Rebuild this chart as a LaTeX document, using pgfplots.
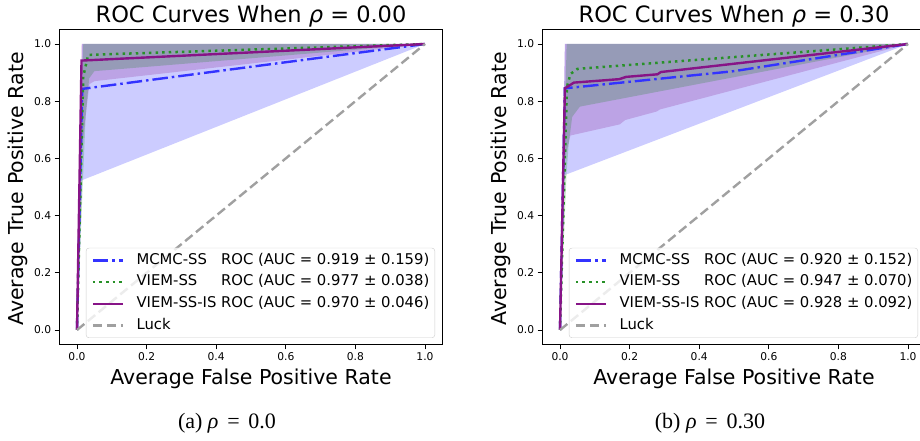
\documentclass[border=0pt]{standalone}
\usepackage{fontspec}
\setmainfont{DejaVu Sans}
\newfontfamily\capfont{Liberation Serif}
\usepackage{calc}
\usepackage{pgfplots}
\pgfplotsset{compat=1.18}

\definecolor{lblue}{RGB}{51,51,255}
\definecolor{lgreen}{RGB}{40,145,40}
\definecolor{lpurple}{RGB}{135,20,135}
\definecolor{lgray}{RGB}{160,160,160}
\definecolor{fgreen}{RGB}{0,128,0}
\definecolor{fpurple}{RGB}{128,0,128}

\newcommand{\nm}[1]{\makebox[\widthof{VIEM-SS-IS}][l]{#1}}

\pgfplotsset{
  roc/.style={
    scale only axis, width=382.8pt, height=314.6pt,
    xmin=-0.05, xmax=1.05, ymin=-0.05, ymax=1.05,
    xtick={0,0.2,0.4,0.6,0.8,1}, ytick={0,0.2,0.4,0.6,0.8,1},
    xticklabels={0.0,0.2,0.4,0.6,0.8,1.0},
    yticklabels={0.0,0.2,0.4,0.6,0.8,1.0},
    tick pos=left, tick align=outside, major tick length=5pt,
    tick style={black, line width=0.8pt},
    axis line style={line width=0.8pt},
    ticklabel style={font=\fontsize{10.7}{12}\selectfont},
    legend style={at={(1,0)}, anchor=south east, xshift=-7.4pt, yshift=6.3pt,
      font=\fontsize{14.8}{17}\selectfont, draw=black!20, rounded corners=3pt,
      fill=white, fill opacity=0.8, text opacity=1, row sep=0pt,
      inner xsep=5.5pt, inner ysep=1.5pt,
      nodes={text height=11pt, text depth=3.5pt, inner ysep=3.6pt, inner xsep=0pt},
      /tikz/every odd column/.append style={column sep=12pt}},
    legend cell align=left,
    legend image code/.code={\draw[#1] (0pt,0pt) -- (30.5pt,0pt);},
  },
  bandb/.style={fill=blue, fill opacity=0.2, draw=none, forget plot},
  bandp/.style={fill=fpurple, fill opacity=0.2, draw=none, forget plot},
  bandg/.style={fill=fgreen, fill opacity=0.2, draw=none, forget plot},
  mcmc/.style={lblue, line width=2.4pt, dash pattern=on 15.5pt off 4pt on 2.5pt off 4pt},
  viem/.style={lgreen, line width=2.5pt, dash pattern=on 2.5pt off 4.1pt},
  viemis/.style={lpurple, line width=2.4pt},
  luck/.style={lgray, line width=2.4pt, dash pattern=on 9.5pt off 4.5pt},
}

\begin{document}
\begin{tikzpicture}[x=1pt,y=1pt]
\useasboundingbox (0,0) rectangle (920,441);

% rho = 0.00
\begin{axis}[roc, at={(59.6pt,96.7pt)}, anchor=south west]
\addplot[bandb] coordinates {(0,0) (0.015,1) (1,1) (0.015,0.524)} -- cycle;
\addplot[bandp] coordinates {(0,0) (0.013,1) (1,1) (0.05,0.87) (0.036,0.86) (0.03,0.80) (0.013,0.62)} -- cycle;
\addplot[bandg] coordinates {(0,0) (0.018,1) (1,1) (0.05,0.905) (0.035,0.88) (0.025,0.75) (0.018,0.55)} -- cycle;
\addplot[mcmc] coordinates {(0,0) (0.015,0.843) (1,1)};
\addlegendentry{\nm{MCMC-SS} ROC (AUC = 0.919 ± 0.159)}
\addplot[viem] coordinates {(0,0) (0.018,0.886) (0.032,0.962) (1,1)};
\addlegendentry{\nm{VIEM-SS} ROC (AUC = 0.977 ± 0.038)}
\addplot[viemis] coordinates {(0,0) (0.013,0.942) (1,1)};
\addlegendentry{VIEM-SS-IS ROC (AUC = 0.970 ± 0.046)}
\addplot[luck] coordinates {(0,0) (1,1)};
\addlegendentry{Luck}
\end{axis}

% rho = 0.30
\begin{axis}[roc, at={(542.6pt,96.7pt)}, anchor=south west]
\addplot[bandb] coordinates {(0,0) (0.014,1) (1,1) (0.014,0.542)} -- cycle;
\addplot[bandp] coordinates {(0,0) (0.014,1) (1,1) (0.287,0.771) (0.278,0.764) (0.187,0.734) (0.172,0.719) (0.03,0.68) (0.014,0.60)} -- cycle;
\addplot[bandg] coordinates {(0,0) (0.019,1) (1,1) (0.057,0.781) (0.035,0.745) (0.025,0.65) (0.019,0.55)} -- cycle;
\addplot[mcmc] coordinates {(0,0) (0.014,0.845) (0.5,0.905) (1,1)};
\addlegendentry{\nm{MCMC-SS} ROC (AUC = 0.920 ± 0.152)}
\addplot[viem] coordinates {(0,0) (0.02,0.85) (0.03,0.895) (0.05,0.913) (1,1)};
\addlegendentry{\nm{VIEM-SS} ROC (AUC = 0.947 ± 0.070)}
\addplot[viemis] coordinates {(0,0) (0.014,0.845) (0.04,0.865) (0.17,0.877) (0.19,0.885) (0.28,0.894) (0.29,0.902) (1,1)};
\addlegendentry{VIEM-SS-IS ROC (AUC = 0.928 ± 0.092)}
\addplot[luck] coordinates {(0,0) (1,1)};
\addlegendentry{Luck}
\end{axis}

% titles, axis labels, captions
\node[anchor=base, font=\fontsize{22.5}{26}\selectfont] at (251,418.3) {ROC Curves When \textit{ρ} = 0.00};
\node[anchor=base, font=\fontsize{22.5}{26}\selectfont] at (734,418.3) {ROC Curves When \textit{ρ} = 0.30};
\node[anchor=base, font=\fontsize{20.5}{24}\selectfont] at (251,56) {Average False Positive Rate};
\node[anchor=base, font=\fontsize{20.5}{24}\selectfont] at (734,56) {Average False Positive Rate};
\node[rotate=90, font=\fontsize{20.5}{24}\selectfont] at (18,252) {Average True Positive Rate};
\node[rotate=90, font=\fontsize{20.5}{24}\selectfont] at (501,252) {Average True Positive Rate};
\node[anchor=base, font=\capfont\fontsize{22}{26}\selectfont] at (227,12) {(a) \textit{ρ}\hspace{0.4em}=\hspace{0.4em}0.0};
\node[anchor=base, font=\capfont\fontsize{22}{26}\selectfont] at (710,12) {(b) \textit{ρ}\hspace{0.4em}=\hspace{0.4em}0.30};
\end{tikzpicture}
\end{document}
